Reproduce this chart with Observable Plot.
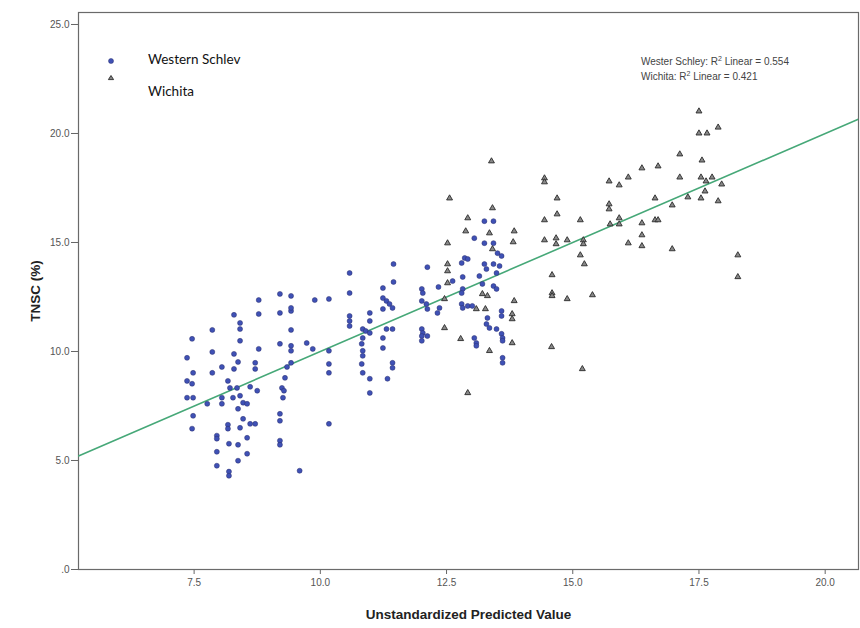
<!DOCTYPE html>
<html>
<head>
<meta charset="utf-8">
<script src="https://cdn.jsdelivr.net/npm/d3@7"></script>
<script src="https://cdn.jsdelivr.net/npm/@observablehq/plot@0.6"></script>
<style>
  html, body { margin: 0; padding: 0; background: #fff; }
  #wrap { position: relative; width: 860px; height: 628px; }
  #wrap svg text { font-family: "Liberation Sans", Arial, sans-serif; }
  #wrap svg [aria-label="x-axis label"] text,
  #wrap svg [aria-label="y-axis label"] text { font-weight: bold; font-size: 13.5px; fill: #222; }
  #wrap svg [aria-label="x-axis tick label"] text,
  #wrap svg [aria-label="y-axis tick label"] text { fill: #555; font-size: 10px; }
  .legend { position: absolute; left: 104px; top: 50px; font-family: Lato, "Open Sans", sans-serif; font-size: 13.5px; color: #111; }
  .legend .row { position: absolute; white-space: nowrap; }
  .legend svg { position: absolute; }
  .note { position: absolute; left: 641px; top: 54px; font-family: "Liberation Sans", Arial, sans-serif; font-size: 10px; color: #444; line-height: 15px; }
  .note sup { font-size: 7px; line-height: 0; }
</style>
</head>
<body>
<div id="wrap"></div>
<script>
// Observed TNSC (%) against the model's unstandardized predicted value, by site.
const westernSchley = [
  [8.78,12.36],[9.20,12.64],[9.42,12.55],[9.89,12.36],[10.17,12.41],[8.78,11.72],[9.20,11.77],
  [9.42,11.86],[9.42,12.00],[8.29,11.68],[8.41,11.31],[8.41,11.03],[7.86,10.99],[9.42,10.99],
  [7.46,10.58],[8.41,10.49],[9.20,10.35],[9.42,10.26],[9.42,10.03],[9.73,10.39],[9.85,10.12],
  [10.17,10.03],[7.86,9.98],[8.78,10.12],[7.36,9.71],[8.29,9.89],[8.37,9.52],[8.71,9.48],
  [8.71,9.20],[9.42,9.48],[9.34,9.29],[10.17,9.43],[10.17,9.02],[8.05,9.29],[8.29,9.20],
  [7.48,9.02],[7.86,9.02],[7.36,8.65],[7.46,8.52],[8.17,8.65],[8.21,8.33],[8.35,8.33],
  [8.61,8.38],[8.75,8.20],[9.30,8.79],[9.24,8.33],[9.28,8.20],[7.36,7.88],[7.48,7.88],
  [7.76,7.60],[8.05,7.88],[8.05,7.60],[8.27,7.88],[8.41,7.97],[8.47,7.65],[8.55,7.60],
  [9.26,7.88],[8.37,7.37],[7.48,7.05],[8.47,6.91],[9.20,7.14],[9.20,6.82],[10.17,6.68],
  [8.17,6.64],[8.41,6.50],[8.61,6.68],[8.71,6.68],[7.46,6.46],[8.17,6.46],[7.95,6.14],
  [7.95,6.00],[8.55,6.04],[8.19,5.77],[8.37,5.72],[9.20,5.91],[9.20,5.72],[7.95,5.40],
  [8.55,5.31],[8.37,4.99],[7.95,4.76],[8.19,4.49],[8.19,4.30],[9.59,4.53],
  [13.25,15.98],[13.43,15.98],[13.05,15.20],[13.25,14.97],[13.43,14.97],[13.51,14.51],
  [13.59,14.38],[12.86,14.29],[12.92,14.24],[12.80,14.06],[11.45,14.01],[13.25,14.01],
  [13.43,14.01],[13.55,13.92],[10.58,13.60],[12.12,13.87],[13.29,13.78],[13.49,13.60],
  [12.82,13.42],[13.15,13.46],[12.62,13.23],[11.45,13.19],[11.24,12.91],[12.34,12.96],
  [12.82,12.87],[12.80,12.68],[13.21,13.10],[13.43,13.00],[13.49,12.87],[10.58,12.68],
  [12.01,12.87],[12.03,12.68],[11.24,12.45],[11.31,12.32],[11.37,12.18],[11.43,12.00],
  [12.01,12.32],[12.10,12.18],[12.12,11.95],[12.36,12.00],[12.32,11.77],[12.80,12.18],
  [12.82,12.00],[12.92,12.09],[13.01,12.09],[13.59,11.86],[13.59,11.63],[13.31,11.54],
  [10.98,11.77],[10.98,11.40],[10.58,11.63],[10.58,11.40],[10.58,11.17],[11.24,11.95],
  [13.29,11.26],[13.35,11.08],[10.84,11.03],[10.90,10.94],[10.98,10.85],[11.31,11.03],
  [11.43,11.03],[12.01,11.03],[12.03,10.85],[12.12,10.71],[13.49,11.03],[13.59,10.81],
  [10.84,10.62],[10.82,10.35],[10.84,10.03],[11.24,10.62],[11.24,10.16],[12.01,10.71],
  [12.01,10.49],[13.05,10.62],[13.09,10.39],[13.09,10.26],[13.61,10.62],[13.61,10.49],
  [10.84,9.80],[13.61,9.71],[13.61,9.48],[10.82,9.43],[10.84,9.02],[10.98,8.75],
  [11.43,9.48],[11.43,9.25],[11.33,8.75],[10.98,8.10]
];

const wichita = [
  [13.39,18.73],[12.56,17.03],[13.41,16.58],[12.92,16.12],[12.88,15.52],[13.35,15.43],
  [13.84,15.52],[13.82,15.02],[12.52,14.97],[13.41,14.70],[12.52,14.01],[12.52,13.69],
  [12.52,13.14],[13.21,12.64],[13.31,12.55],[12.46,12.41],[13.84,12.32],[13.09,11.95],
  [13.27,11.95],[13.80,11.72],[13.80,11.49],[12.46,11.08],[12.78,10.58],[13.80,10.39],
  [13.35,10.03],[12.92,8.10],
  [17.50,21.02],[17.50,20.01],[17.66,20.01],[17.88,20.28],[17.12,19.05],[17.56,18.77],
  [16.37,18.41],[16.69,18.50],[14.44,17.95],[14.44,17.77],[15.72,17.81],[15.92,17.63],
  [16.10,17.99],[17.12,17.99],[17.54,17.99],[17.64,17.81],[17.76,17.99],[17.95,17.67],
  [14.69,17.03],[16.63,17.03],[17.28,17.08],[17.54,17.03],[17.88,16.90],[17.62,17.35],
  [16.97,16.71],[15.72,16.76],[15.72,16.53],[14.69,16.30],[14.44,16.03],[15.15,16.03],
  [15.92,16.12],[15.74,15.84],[15.92,15.84],[16.37,15.89],[16.63,16.03],[16.69,16.03],
  [14.44,15.11],[14.67,15.20],[14.67,14.93],[14.89,15.11],[15.21,15.11],[15.21,14.93],
  [16.10,14.97],[16.37,15.34],[16.37,14.84],[16.97,14.70],[15.15,14.42],[15.23,14.01],
  [18.27,14.42],[18.27,13.42],[14.59,13.51],[14.59,12.68],[14.59,12.55],[14.89,12.41],
  [15.39,12.59],[14.58,10.21],[15.19,9.20]
];

// Axis ranges and ticks
const xDomain = [5.21, 20.66];
const yDomain = [0, 25.55];
const xTicks = [7.5, 10, 12.5, 15, 17.5, 20];
const yTicks = [0, 5, 10, 15, 20, 25];

// Overall linear fit of observed on predicted
const fitIntercept = 0;
const fitSlope = 1;
const fitLine = xDomain.map(x => ({x, y: fitIntercept + fitSlope * x}));

// Per-site goodness of fit
const siteFits = [
  {site: "Wester Schley", r2: 0.554},
  {site: "Wichita", r2: 0.421}
];
const legendLabels = ["Western Schlev", "Wichita"];

const schleyColor = "#3f51b5";

const chart = Plot.plot({
  width: 860,
  height: 628,
  marginLeft: 78,
  marginRight: 2,
  marginTop: 12,
  marginBottom: 59,
  x: {domain: xDomain},
  y: {domain: yDomain},
  marks: [
    Plot.axisX({ticks: xTicks, tickFormat: d => d.toFixed(1), tickSize: 5, tickPadding: 4,
      stroke: "#666", label: "Unstandardized Predicted Value", labelAnchor: "center",
      labelOffset: 49, labelArrow: "none"}),
    Plot.axisY({ticks: yTicks, tickFormat: d => d === 0 ? ".0" : d.toFixed(1), tickSize: 7,
      tickPadding: 2, stroke: "#666", label: "TNSC (%)", labelAnchor: "center",
      labelOffset: 48, labelArrow: "none"}),
    Plot.frame({stroke: "#6a6a6a", strokeWidth: 1.2}),
    Plot.line(fitLine, {x: "x", y: "y", stroke: "#46a878", strokeWidth: 1.6, clip: true}),
    Plot.dot(westernSchley, {x: d => d[0], y: d => d[1], r: 2.5, fill: schleyColor,
      stroke: "#2a2f6e", strokeWidth: 0.5}),
    Plot.dot(wichita, {x: d => d[0], y: d => d[1], symbol: "triangle", r: 2.2,
      fill: "#888", stroke: "#2a2a2a", strokeWidth: 0.9})
  ]
});

const wrap = document.getElementById("wrap");
wrap.appendChild(chart);

// Site legend inside the plot area
const legend = document.createElement("div");
legend.className = "legend";
legend.innerHTML = `
  <svg width="14" height="32" style="left:0;top:3px">
    <circle cx="7" cy="8" r="2.5" fill="${schleyColor}" stroke="#2a2f6e" stroke-width="0.5"></circle>
    <path d="M7,22.5 L9.6,26.6 L4.4,26.6 Z" fill="#888" stroke="#2a2a2a" stroke-width="0.9"></path>
  </svg>
  <div class="row" style="left:44px;top:1px">${legendLabels[0]}</div>
  <div class="row" style="left:44px;top:33px">${legendLabels[1]}</div>`;
wrap.appendChild(legend);

// R² notes, top right
const note = document.createElement("div");
note.className = "note";
note.innerHTML = siteFits
  .map(f => `${f.site}: R<sup>2</sup> Linear = ${f.r2.toFixed(3)}`)
  .join("<br>");
wrap.appendChild(note);
</script>
</body>
</html>
